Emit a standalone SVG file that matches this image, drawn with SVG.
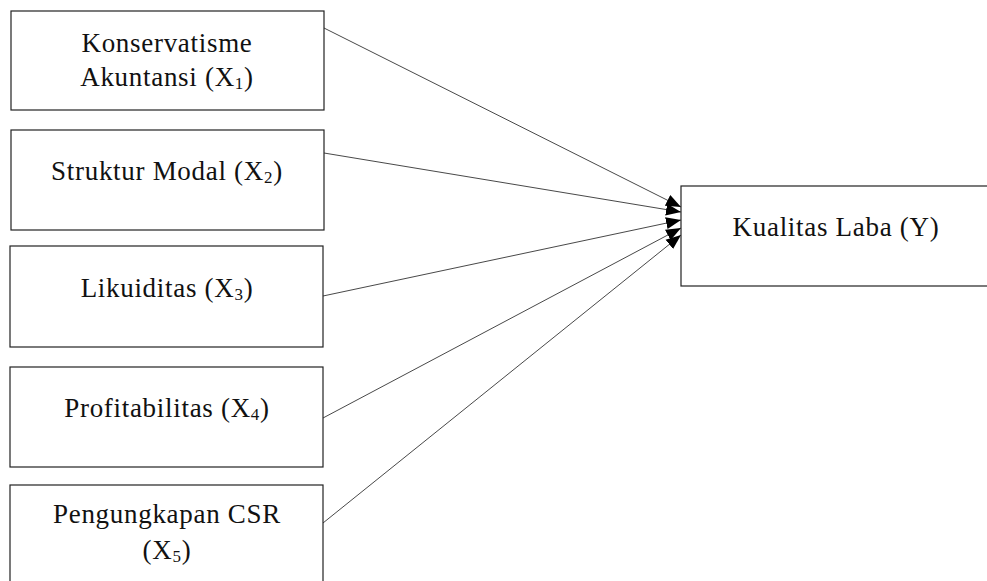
<svg xmlns="http://www.w3.org/2000/svg" width="987" height="581" viewBox="0 0 987 581">
<style>
.box{fill:#fff;stroke:#222;stroke-width:1.2}
.t{font-family:"Liberation Serif","DejaVu Serif",serif;font-size:27px;letter-spacing:0.7px;fill:#111;text-anchor:middle}
.s{font-size:17px}
.c{stroke:#333;stroke-width:0.9;fill:none;marker-end:url(#ah)}
</style>
<defs>
<marker id="ah" markerUnits="userSpaceOnUse" markerWidth="16" markerHeight="14" refX="15" refY="7" orient="auto">
<path d="M0,1 L15,7 L0,13 Z" fill="#000"/>
</marker>
</defs>
<rect width="987" height="581" fill="#fff"/>
<g id="connectors">
<line class="c" x1="324" y1="28" x2="681" y2="207"/>
<line class="c" x1="324" y1="153" x2="681" y2="212"/>
<line class="c" x1="323" y1="296" x2="681" y2="220"/>
<line class="c" x1="323" y1="418" x2="681" y2="228"/>
<line class="c" x1="323" y1="523" x2="681" y2="235"/>
</g>
<g id="x1">
<rect class="box" x="11" y="11" width="313" height="99"/>
<text class="t" x="167" y="52">Konservatisme</text>
<text class="t" x="167" y="86">Akuntansi (X<tspan class="s" dy="3">1</tspan><tspan dy="-3">)</tspan></text>
</g>
<g id="x2">
<rect class="box" x="11" y="130" width="313" height="100"/>
<text class="t" x="167" y="180">Struktur Modal (X<tspan class="s" dy="3">2</tspan><tspan dy="-3">)</tspan></text>
</g>
<g id="x3">
<rect class="box" x="10" y="246" width="313" height="101"/>
<text class="t" x="167" y="297">Likuiditas (X<tspan class="s" dy="3">3</tspan><tspan dy="-3">)</tspan></text>
</g>
<g id="x4">
<rect class="box" x="10" y="367" width="313" height="100"/>
<text class="t" x="167" y="417">Profitabilitas (X<tspan class="s" dy="3">4</tspan><tspan dy="-3">)</tspan></text>
</g>
<g id="x5">
<rect class="box" x="10" y="485" width="313" height="110"/>
<text class="t" x="167" y="523">Pengungkapan CSR</text>
<text class="t" x="167" y="559">(X<tspan class="s" dy="3">5</tspan><tspan dy="-3">)</tspan></text>
</g>
<g id="y">
<rect class="box" x="681" y="186" width="320" height="100"/>
<text class="t" x="836" y="236">Kualitas Laba (Y)</text>
</g>
</svg>
